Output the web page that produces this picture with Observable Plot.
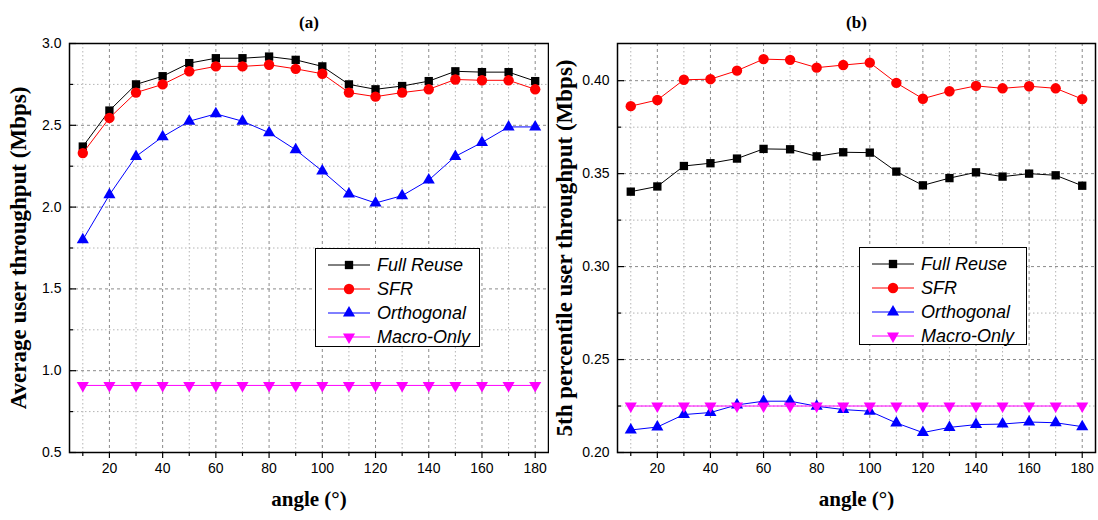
<!DOCTYPE html>
<html><head><meta charset="utf-8">
<script src="https://cdn.jsdelivr.net/npm/d3@7"></script>
<script src="https://cdn.jsdelivr.net/npm/@observablehq/plot@0.6"></script>
<style>
body{margin:0;background:#fff}
#wrap{position:relative;width:1098px;height:520px;display:flex}
.panel{position:relative;width:549px;height:520px}
.legend{position:absolute;border:1px solid #000;background:#fff;font:italic 18px "Liberation Sans",Arial,sans-serif;box-sizing:border-box;padding:4px 0 0 0;color:#000}
.legend .row{display:flex;align-items:center;height:24px;white-space:nowrap}
.legend svg{margin-left:12px;margin-right:7px;flex:none}
</style></head><body>
<div id="wrap"><div class="panel" id="pa"></div><div class="panel" id="pb"></div></div>
<script>
// ---- data ----
const angles = [10,20,30,40,50,60,70,80,90,100,110,120,130,140,150,160,170,180];
const seriesNames = ["Full Reuse","SFR","Orthogonal","Macro-Only"];
const seriesColors = ["#000000","#ff0000","#0000ff","#ff00ff"];

const avgFullReuse  = [2.37,2.59,2.75,2.80,2.88,2.91,2.91,2.92,2.90,2.86,2.75,2.72,2.74,2.77,2.83,2.825,2.825,2.77];
const avgSFR        = [2.33,2.545,2.70,2.75,2.83,2.86,2.86,2.87,2.845,2.815,2.70,2.675,2.70,2.72,2.78,2.775,2.775,2.72];
const avgOrthogonal = [1.80,2.075,2.31,2.43,2.525,2.57,2.525,2.455,2.35,2.22,2.08,2.025,2.07,2.165,2.31,2.395,2.49,2.49];
const avgMacroOnly  = [0.91,0.91,0.91,0.91,0.91,0.91,0.91,0.91,0.91,0.91,0.91,0.91,0.91,0.91,0.91,0.91,0.91,0.91];

const p5FullReuse   = [0.3403,0.3431,0.3541,0.3556,0.3581,0.3633,0.3631,0.3593,0.3615,0.3613,0.3511,0.3437,0.3476,0.3507,0.3484,0.3500,0.3491,0.3435];
const p5SFR         = [0.3863,0.3896,0.4005,0.4008,0.4054,0.4116,0.4112,0.4070,0.4084,0.4097,0.3988,0.3903,0.3943,0.3972,0.3959,0.3970,0.3959,0.3901];
const p5Orthogonal  = [0.2121,0.2137,0.2204,0.2215,0.2256,0.2276,0.2276,0.2249,0.2231,0.2222,0.2159,0.2107,0.2135,0.2150,0.2153,0.2164,0.2160,0.2139];
const p5MacroOnly   = [0.2250,0.2250,0.2250,0.2250,0.2250,0.2250,0.2250,0.2250,0.2250,0.2250,0.2250,0.2250,0.2250,0.2250,0.2250,0.2250,0.2250,0.2250];

const xMajorTicks = [20,40,60,80,100,120,140,160,180];
const xMinorTicks = [10,30,50,70,90,110,130,150,170];
const aMajorTicks = [0.5,1.0,1.5,2.0,2.5,3.0];
const aMinorTicks = [0.75,1.25,1.75,2.25,2.75];
const bMajorTicks = [0.20,0.25,0.30,0.35,0.40];
const bMinorTicks = [0.225,0.275,0.325,0.375];

// ---- symbols ----
const triangleDown = {
  draw(ctx, size) {
    const y = -Math.sqrt(size / (Math.sqrt(3) * 3));
    ctx.moveTo(0, -y * 2);
    ctx.lineTo(-Math.sqrt(3) * y, y);
    ctx.lineTo(Math.sqrt(3) * y, y);
    ctx.closePath();
  }
};
const seriesSymbols = [d3.symbolSquare, d3.symbolCircle, d3.symbolTriangle, triangleDown];
const seriesR = [4.7, 5.2, 4.5, 4.5];

function makePanel({title, ylabel, ydomain, yMajor, yMinor, yFormat, series, marginLeft, marginRight, ylabelDx}) {
  const marks = [
    Plot.gridX(xMinorTicks, {stroke: "#b4b4b4", strokeOpacity: 1, strokeDasharray: "1.5,2.5"}),
    Plot.gridY(yMinor, {stroke: "#b4b4b4", strokeOpacity: 1, strokeDasharray: "1.5,2.5"}),
    Plot.gridX(xMajorTicks, {stroke: "#8a8a8a", strokeOpacity: 1, strokeDasharray: "3,3"}),
    Plot.gridY(yMajor, {stroke: "#8a8a8a", strokeOpacity: 1, strokeDasharray: "3,3"})
  ];
  series.forEach((vals, si) => {
    const d = vals.map((v, i) => ({angle: angles[i], value: v}));
    marks.push(Plot.line(d, {x: "angle", y: "value", stroke: seriesColors[si], strokeWidth: 1}));
    marks.push(Plot.dot(d, {x: "angle", y: "value", symbol: seriesSymbols[si], r: seriesR[si], fill: seriesColors[si], stroke: "none"}));
  });
  marks.push(
    Plot.frame({stroke: "#000", strokeWidth: 1.5}),
    Plot.axisY(yMajor, {tickSize: -7, tickPadding: 15, tickFormat: yFormat, fontSize: 14, label: null, strokeWidth: 1.2}),
    Plot.axisY(yMinor, {tickSize: -4, tickFormat: () => "", label: null, strokeWidth: 1.2}),
    Plot.axisX(xMajorTicks, {tickSize: 6, tickPadding: 5, fontSize: 14, label: null, strokeWidth: 1.2}),
    Plot.axisX(xMinorTicks, {tickSize: 4, tickFormat: () => "", label: null, strokeWidth: 1.2}),
    Plot.text([ylabel], {frameAnchor: "left", textAnchor: "middle", dx: ylabelDx, rotate: -90, fontSize: 23, fontWeight: "bold", fontFamily: "Liberation Serif", fill: "#000"}),
    Plot.text(["angle (°)"], {frameAnchor: "bottom", textAnchor: "middle", dy: 53, fontSize: 21, fontWeight: "bold", fontFamily: "Liberation Serif", fill: "#000"}),
    Plot.text([title], {frameAnchor: "top", textAnchor: "middle", dy: -28, fontSize: 17, fontWeight: "bold", fontFamily: "Liberation Serif", fill: "#000"})
  );
  return Plot.plot({
    width: 549, height: 520,
    marginLeft, marginRight, marginTop: 43, marginBottom: 68,
    x: {domain: [5, 185], label: null},
    y: {domain: ydomain, label: null},
    style: {fontFamily: "Liberation Sans, Arial, sans-serif", fontSize: "14px", color: "#000", background: "#fff"},
    marks
  });
}

function makeLegend(left, top, width, height) {
  const div = document.createElement("div");
  div.className = "legend";
  Object.assign(div.style, {left: left + "px", top: top + "px", width: width + "px", height: height + "px"});
  seriesNames.forEach((name, si) => {
    const row = document.createElement("div");
    row.className = "row";
    const svg = d3.create("svg").attr("width", 42).attr("height", 20);
    svg.append("line").attr("x1", 0).attr("x2", 42).attr("y1", 10).attr("y2", 10).attr("stroke", seriesColors[si]).attr("stroke-width", 1);
    svg.append("path").attr("transform", "translate(21,10)")
      .attr("d", d3.symbol(seriesSymbols[si], Math.PI * seriesR[si] * seriesR[si])())
      .attr("fill", seriesColors[si]);
    row.appendChild(svg.node());
    const span = document.createElement("span");
    span.textContent = name;
    row.appendChild(span);
    div.appendChild(row);
  });
  return div;
}

const pa = document.getElementById("pa");
pa.appendChild(makePanel({
  title: "(a)", ylabel: "Average user throughput (Mbps)", ydomain: [0.5, 3.0],
  yMajor: aMajorTicks, yMinor: aMinorTicks, yFormat: d3.format(".1f"),
  series: [avgFullReuse, avgSFR, avgOrthogonal, avgMacroOnly],
  marginLeft: 69, marginRight: 1, ylabelDx: -51
}));
pa.appendChild(makeLegend(315, 248, 165, 99));

const pb = document.getElementById("pb");
pb.appendChild(makePanel({
  title: "(b)", ylabel: "5th percentile user throughput (Mbps)", ydomain: [0.2, 0.42],
  yMajor: bMajorTicks, yMinor: bMinorTicks, yFormat: d3.format(".2f"),
  series: [p5FullReuse, p5SFR, p5Orthogonal, p5MacroOnly],
  marginLeft: 68, marginRight: 3, ylabelDx: -53
}));
pb.appendChild(makeLegend(310, 247, 168, 98));
</script>
</body></html>
